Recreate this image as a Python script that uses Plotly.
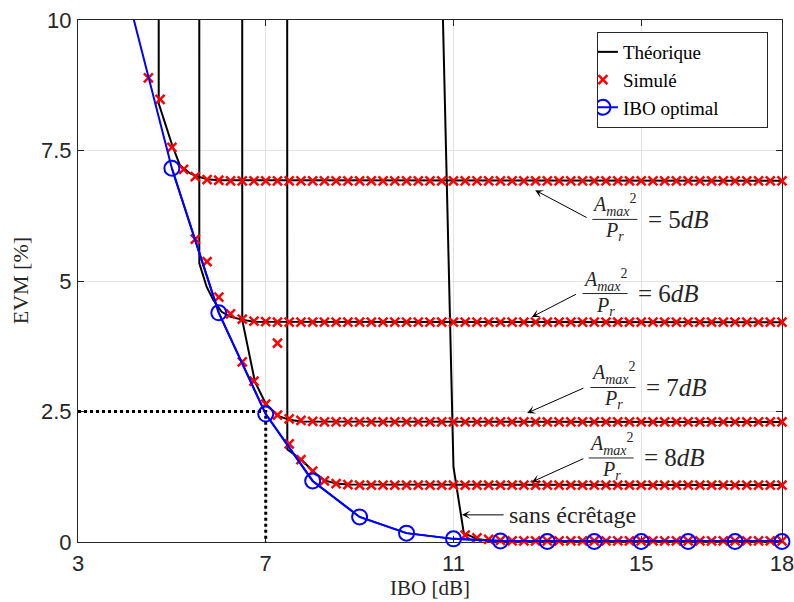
import plotly.graph_objects as go

# IBO grid of the simulations (dB)
IBO_SIM = [4.5, 4.75, 5.0, 5.25, 5.5, 5.75, 6.0, 6.25, 6.5, 6.75, 7.0, 7.25,
           7.5, 7.75, 8.0, 8.25, 8.5, 8.75, 9.0, 9.25, 9.5, 9.75, 10.0, 10.25,
           10.5, 10.75, 11.0, 11.25, 11.5, 11.75, 12.0, 12.25, 12.5, 12.75, 13.0, 13.25,
           13.5, 13.75, 14.0, 14.25, 14.5, 14.75, 15.0, 15.25, 15.5, 15.75, 16.0, 16.25,
           16.5, 16.75, 17.0, 17.25, 17.5, 17.75, 18.0]

# Simulated EVM (%) for each clipping ratio; every series ends at IBO = 18 dB
SIM_5DB = [8.89, 8.48, 7.56, 7.14, 7.00, 6.94, 6.93, 6.92, 6.92, 6.92, 6.92, 6.92,
           6.92, 6.92, 6.92, 6.92, 6.92, 6.92, 6.92, 6.92, 6.92, 6.92, 6.92, 6.92,
           6.92, 6.92, 6.92, 6.92, 6.92, 6.92, 6.92, 6.92, 6.92, 6.92, 6.92, 6.92,
           6.92, 6.92, 6.92, 6.92, 6.92, 6.92, 6.92, 6.92, 6.92, 6.92, 6.92, 6.92,
           6.92, 6.92, 6.92, 6.92, 6.92, 6.92, 6.92]
SIM_6DB = [5.80, 5.37, 4.69, 4.37, 4.27, 4.23, 4.22, 4.21, 4.21, 4.21, 4.21, 4.21,
           4.21, 4.21, 4.21, 4.21, 4.21, 4.21, 4.21, 4.21, 4.21, 4.21, 4.21, 4.21,
           4.21, 4.21, 4.21, 4.21, 4.21, 4.21, 4.21, 4.21, 4.21, 4.21, 4.21, 4.21,
           4.21, 4.21, 4.21, 4.21, 4.21, 4.21, 4.21, 4.21, 4.21, 4.21, 4.21, 4.21,
           4.21, 4.21, 4.21]
SIM_7DB = [3.45, 3.08, 2.64, 2.43, 2.36, 2.33, 2.31, 2.30, 2.30, 2.30, 2.30, 2.30,
           2.30, 2.30, 2.30, 2.30, 2.30, 2.30, 2.30, 2.30, 2.30, 2.30, 2.30, 2.30,
           2.30, 2.30, 2.30, 2.30, 2.30, 2.30, 2.30, 2.30, 2.30, 2.30, 2.30, 2.30,
           2.30, 2.30, 2.30, 2.30, 2.30, 2.30, 2.30, 2.30, 2.30, 2.30, 2.30]
SIM_8DB = [3.81, 1.88, 1.58, 1.36, 1.17, 1.12, 1.10, 1.09, 1.09, 1.09, 1.09, 1.09,
           1.09, 1.09, 1.09, 1.09, 1.09, 1.09, 1.09, 1.09, 1.09, 1.09, 1.09, 1.09,
           1.09, 1.09, 1.09, 1.09, 1.09, 1.09, 1.09, 1.09, 1.09, 1.09, 1.09, 1.09,
           1.09, 1.09, 1.09, 1.09, 1.09, 1.09, 1.09, 1.09]
SIM_NOCLIP = [0.13, 0.08, 0.05, 0.03, 0.02, 0.02, 0.02, 0.02, 0.02, 0.02, 0.02, 0.02,
              0.02, 0.02, 0.02, 0.02, 0.02, 0.02, 0.02, 0.02, 0.02, 0.02, 0.02, 0.02,
              0.02, 0.02, 0.02, 0.02]

# Theoretical EVM (%) curves
THEO_5DB_IBO = [4.71, 4.72, 5.0, 5.17, 5.39, 5.56, 5.75, 6.0, 18.0]
THEO_5DB_EVM = [60.0, 8.40, 7.62, 7.22, 7.06, 7.00, 6.95, 6.93, 6.92]
THEO_6DB_IBO = [5.575, 5.585, 5.74, 5.88, 6.06, 6.24, 6.49, 6.75, 18.0]
THEO_6DB_EVM = [60.0, 5.34, 4.89, 4.64, 4.41, 4.32, 4.26, 4.22, 4.21]
THEO_7DB_IBO = [6.49, 6.50, 6.77, 7.0, 7.25, 7.5, 7.75, 18.0]
THEO_7DB_EVM = [60.0, 4.25, 3.07, 2.65, 2.42, 2.34, 2.31, 2.30]
THEO_8DB_IBO = [7.44, 7.46, 7.77, 8.0, 8.25, 8.5, 8.75, 18.0]
THEO_8DB_EVM = [60.0, 1.77, 1.57, 1.36, 1.18, 1.12, 1.10, 1.09]
THEO_NOCLIP_IBO = [10.75, 11.0, 11.22, 11.5, 11.75, 12.0, 18.0]
THEO_NOCLIP_EVM = [11.0, 1.44, 0.17, 0.06, 0.03, 0.02, 0.02]

# EVM at the optimal IBO
IBO_OPT = [4, 5, 6, 7, 8, 9, 10, 11, 12, 13, 14, 15, 16, 17, 18]
EVM_OPT = [10.67, 7.16, 4.39, 2.45, 1.17, 0.48, 0.17, 0.06, 0.02, 0.01, 0.01, 0.01, 0.01, 0.01, 0.01]

# Operating point highlighted with dotted guides
OP_IBO = 7.0
OP_EVM = 2.5

X_RANGE = [3, 18]
Y_RANGE = [0, 10]
X_TICKS = [3, 7, 11, 15, 18]
Y_TICKS = [0, 2.5, 5, 7.5, 10]
Y_TICK_TEXT = ['0', '2.5', '5', '7.5', '10']

RATIOS = ['5', '6', '7', '8']
RATIO_LABEL_POS = [(14.44, 6.18), (14.23, 4.76), (14.40, 2.96), (14.36, 1.61)]
RATIO_ARROW_HEAD = [(12.74, 6.74), (12.67, 4.31), (12.57, 2.47), (12.67, 1.15)]
RATIO_ARROW_TAIL = [(13.87, 6.20), (13.64, 4.76), (13.80, 2.96), (13.80, 1.61)]
NOCLIP_TEXT_POS = (12.14, 0.52)
NOCLIP_ARROW_HEAD = (11.18, 0.52)
NOCLIP_ARROW_TAIL = (12.10, 0.52)

SERIF = "Liberation Serif, Times New Roman, serif"
SANS = "Liberation Sans, Arial, sans-serif"
AX_COLOR = "#262626"
NBSP = "\u00a0"

fig = go.Figure()

# dotted guides to the operating point
fig.add_trace(go.Scatter(
    x=[X_RANGE[0], OP_IBO, OP_IBO], y=[OP_EVM, OP_EVM, Y_RANGE[0]],
    mode='lines', line=dict(color='black', width=3, dash='dot'),
    showlegend=False, hoverinfo='skip'))

theo = [(THEO_5DB_IBO, THEO_5DB_EVM), (THEO_6DB_IBO, THEO_6DB_EVM),
        (THEO_7DB_IBO, THEO_7DB_EVM), (THEO_8DB_IBO, THEO_8DB_EVM),
        (THEO_NOCLIP_IBO, THEO_NOCLIP_EVM)]
for i, (xs, ys) in enumerate(theo):
    fig.add_trace(go.Scatter(
        x=xs, y=ys, mode='lines', line=dict(color='black', width=2),
        name='Théorique', showlegend=(i == 0)))

sims = [SIM_5DB, SIM_6DB, SIM_7DB, SIM_8DB, SIM_NOCLIP]
for i, ys in enumerate(sims):
    fig.add_trace(go.Scatter(
        x=IBO_SIM[-len(ys):], y=ys, mode='markers',
        marker=dict(symbol='x-thin', size=9, color='red',
                    line=dict(color='red', width=2.5)),
        cliponaxis=False, name='Simulé', showlegend=(i == 0)))

# optimal-IBO curve: full line clipped to the axes, markers for in-range points
fig.add_trace(go.Scatter(
    x=IBO_OPT, y=EVM_OPT, mode='lines', line=dict(color='blue', width=2),
    showlegend=False))
in_range = [(x, y) for x, y in zip(IBO_OPT, EVM_OPT) if Y_RANGE[0] <= y <= Y_RANGE[1]]
fig.add_trace(go.Scatter(
    x=[p[0] for p in in_range], y=[p[1] for p in in_range], mode='lines+markers',
    line=dict(color='blue', width=2),
    marker=dict(symbol='circle-open', size=15, color='blue', line=dict(width=2)),
    cliponaxis=False, name='IBO optimal' + NBSP * 9))

annotations = []
shapes = []
for r, (xc, yb), (hx, hy), (tx, ty) in zip(RATIOS, RATIO_LABEL_POS, RATIO_ARROW_HEAD, RATIO_ARROW_TAIL):
    annotations.append(dict(
        x=hx, y=hy, ax=tx, ay=ty, xref='x', yref='y', axref='x', ayref='y',
        text='', showarrow=True, arrowhead=3, arrowsize=1.4, arrowwidth=1,
        arrowcolor='black'))
    annotations.append(dict(
        x=xc, y=yb, xref='x', yref='y', showarrow=False,
        text='<i>A</i><sub><i>max</i></sub><sup>2</sup>',
        xanchor='center', yanchor='bottom', yshift=-2,
        font=dict(family=SERIF, size=20, color=AX_COLOR)))
    annotations.append(dict(
        x=xc, y=yb, xref='x', yref='y', showarrow=False,
        text='<i>P</i><sub><i>r</i></sub>',
        xanchor='center', yanchor='top', yshift=2,
        font=dict(family=SERIF, size=20, color=AX_COLOR)))
    annotations.append(dict(
        x=xc + 0.66, y=yb, xref='x', yref='y', showarrow=False,
        text='= ' + r + '<i>dB</i>',
        xanchor='left', yanchor='middle',
        font=dict(family=SERIF, size=25, color=AX_COLOR)))
    shapes.append(dict(
        type='line', xref='x', yref='y', x0=xc - 0.48, x1=xc + 0.48, y0=yb, y1=yb,
        line=dict(color=AX_COLOR, width=1)))

annotations.append(dict(
    x=NOCLIP_ARROW_HEAD[0], y=NOCLIP_ARROW_HEAD[1],
    ax=NOCLIP_ARROW_TAIL[0], ay=NOCLIP_ARROW_TAIL[1],
    xref='x', yref='y', axref='x', ayref='y',
    text='', showarrow=True, arrowhead=3, arrowsize=1.4, arrowwidth=1,
    arrowcolor='black'))
annotations.append(dict(
    x=NOCLIP_TEXT_POS[0], y=NOCLIP_TEXT_POS[1], xref='x', yref='y',
    showarrow=False, text='sans écrêtage', xanchor='left', yanchor='middle',
    font=dict(family=SERIF, size=24, color=AX_COLOR)))

# axis titles
annotations.append(dict(
    x=-0.082, y=0.5, xref='paper', yref='paper', showarrow=False,
    text='EVM [%]', textangle=-90, xanchor='center', yanchor='middle',
    font=dict(family=SERIF, size=22, color=AX_COLOR)))
annotations.append(dict(
    x=0.5, y=-0.088, xref='paper', yref='paper', showarrow=False,
    text='IBO [dB]', xanchor='center', yanchor='middle',
    font=dict(family=SERIF, size=21, color=AX_COLOR)))

axis_common = dict(
    showgrid=True, gridcolor='#e3e3e3', gridwidth=1,
    showline=True, linecolor=AX_COLOR, linewidth=1, mirror='ticks',
    ticks='inside', ticklen=6, tickcolor=AX_COLOR, tickwidth=1,
    zeroline=False, layer='below traces', ticklabeloverflow='allow',
    tickfont=dict(family=SANS, size=22, color=AX_COLOR))

fig.update_xaxes(range=X_RANGE, tickvals=X_TICKS, ticklabelstandoff=2, **axis_common)
fig.update_yaxes(range=Y_RANGE, tickvals=Y_TICKS, ticktext=Y_TICK_TEXT,
                 ticklabelstandoff=1, **axis_common)

fig.update_layout(
    width=794, height=602,
    margin=dict(l=78, r=12, t=20, b=60, autoexpand=False),
    plot_bgcolor='white', paper_bgcolor='white',
    annotations=annotations, shapes=shapes,
    legend=dict(
        x=0.98, y=0.977, xanchor='right', yanchor='top',
        bgcolor='white', bordercolor=AX_COLOR, borderwidth=1,
        font=dict(family=SERIF, size=19, color='black'),
        tracegroupgap=0, itemwidth=30, indentation=-15),
    showlegend=True)

fig.write_html("out.html")
